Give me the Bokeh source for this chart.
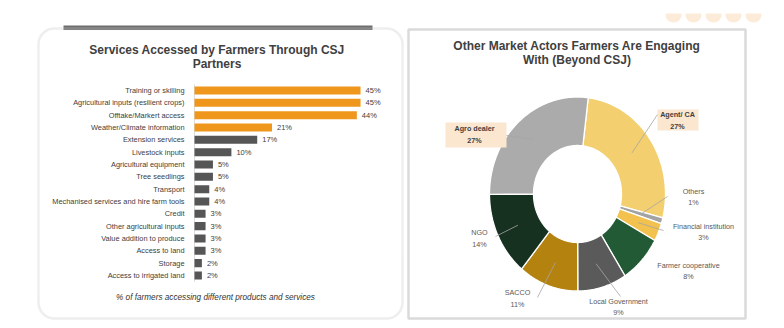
import numpy as np
from bokeh.plotting import figure
from bokeh.models import Range1d, BoxAnnotation
from bokeh.core.properties import value
from bokeh.embed import file_html
from bokeh.resources import INLINE

# ---------------- data ----------------
services = ["Training or skilling", "Agricultural inputs (resilient crops)", "Offtake/Markert access",
            "Weather/Climate information", "Extension services", "Livestock inputs",
            "Agricultural equipment", "Tree seedlings", "Transport",
            "Mechanised services and hire farm tools", "Credit", "Other agricultural inputs",
            "Value addition to produce", "Access to land", "Storage", "Access to irrigated land"]
service_pct = [45, 45, 44, 21, 17, 10, 5, 5, 4, 4, 3, 3, 3, 3, 2, 2]
top_n = 4  # highlighted services

actors = ["Agent/ CA", "Others", "Financial institution", "Farmer cooperative",
          "Local Government", "SACCO", "NGO", "Agro dealer"]
actor_pct = [27, 1, 3, 8, 9, 11, 14, 27]
actor_colors = ["#F3CF6F", "#A3A3A3", "#F2C14E", "#215A35", "#5A5A5A", "#B3820F", "#16311F", "#ABABAB"]
boxed = ["Agent/ CA", "Agro dealer"]

# ---------------- layout constants ----------------
W, H = 784, 328
FONT = value("Liberation Sans")
TXT = "#404040"
BAR_X0, PX_PER_PCT = 194, 3.69
ROW0, ROW_STEP = 90, 12.33
CX, CY, RX, RY = 577, 193.5, 88, 97
INNER = 0.5
START_DEG = 7

p = figure(width=W, height=H, x_range=Range1d(0, W), y_range=Range1d(H, 0),
           output_backend="svg", toolbar_location=None, min_border=0,
           x_axis_type=None, y_axis_type=None, outline_line_color=None)
p.grid.visible = False
p.background_fill_color = "white"
p.border_fill_color = "white"

p.extra_x_ranges = {"bars": Range1d(-BAR_X0 / PX_PER_PCT, (W - BAR_X0) / PX_PER_PCT),
                    "pie": Range1d(-CX / RX, (W - CX) / RX)}
p.extra_y_ranges = {"rows": Range1d((H - ROW0) / ROW_STEP, -ROW0 / ROW_STEP),
                    "pie": Range1d((CY - H) / RY, CY / RY)}

# ---------------- decorations ----------------
p.circle(x=[673, 693, 713, 733, 753], y=[14] * 5, radius=8, fill_color="#FDEBD9", line_color=None)
p.quad(left=[655], right=[775], top=[0], bottom=[13], fill_color="white", line_color=None)

left_box = BoxAnnotation(left=38, right=402, top=28, bottom=318, border_radius=16,
                         fill_alpha=0, line_color="#C6C6C6", line_width=2.5)
p.add_layout(left_box)
p.quad(left=[63], right=[372], top=[25], bottom=[29.5], fill_color="#6E6E6E", line_color=None)
p.quad(left=[408], right=[745], top=[29], bottom=[318], fill_color=None,
       line_color="#DADADA", line_width=2.5)

# ---------------- bar chart ----------------
idx = list(range(len(services)))
bar_colors = ["#EF961C" if i < top_n else "#565656" for i in idx]
p.segment(x0=[0], x1=[0], y0=[-0.5], y1=[len(services) - 0.5], line_color="#DDDDDD",
          line_width=1, x_range_name="bars", y_range_name="rows")
p.hbar(y=idx, left=0, right=service_pct, height=0.65, fill_color=bar_colors, line_color=None,
       x_range_name="bars", y_range_name="rows")
p.text(x=[0] * len(idx), y=idx, text=services, x_offset=-10, text_align="right",
       text_baseline="middle", text_font=FONT, text_font_size="7.4px", text_color=TXT,
       x_range_name="bars", y_range_name="rows")
p.text(x=service_pct, y=idx, text=[f"{v}%" for v in service_pct], x_offset=5, text_align="left",
       text_baseline="middle", text_font=FONT, text_font_size="7.5px", text_color=TXT,
       x_range_name="bars", y_range_name="rows")

p.text(x=[216.5, 216.5], y=[49, 63], text=["Services Accessed by Farmers Through CSJ", "Partners"],
       text_align="center", text_baseline="middle", text_font=FONT, text_font_size="12px",
       text_font_style="bold", text_color=TXT)
p.text(x=[215], y=[297], text=["% of farmers accessing different products and services"],
       text_align="center", text_baseline="middle", text_font=FONT, text_font_size="8.2px",
       text_font_style="italic", text_color="#333333")

# ---------------- donut ----------------
p.text(x=[576.5, 576.5], y=[45, 59], text=["Other Market Actors Farmers Are Engaging", "With (Beyond CSJ)"],
       text_align="center", text_baseline="middle", text_font=FONT, text_font_size="12px",
       text_font_style="bold", text_color=TXT)

total = float(sum(actor_pct))
cum = np.cumsum([0] + actor_pct)
xs, ys, mids = [], [], []
for i, v in enumerate(actor_pct):
    a0 = np.deg2rad(START_DEG + 360 * cum[i] / total)
    a1 = np.deg2rad(START_DEG + 360 * cum[i + 1] / total)
    t = np.linspace(a0, a1, 80)
    u = np.concatenate([np.sin(t), INNER * np.sin(t[::-1])])
    w = np.concatenate([np.cos(t), INNER * np.cos(t[::-1])])
    xs.append(list(u)); ys.append(list(w))
    mids.append((a0 + a1) / 2)
p.patches(xs=xs, ys=ys, fill_color=actor_colors, line_color="white", line_width=1.3,
          x_range_name="pie", y_range_name="pie")

# label positions (pixels): text centre, leader end (None = no leader)
label_pos = {
    "Agent/ CA": ((677, 120), (657, 114)),
    "Others": ((693, 196.5), (667, 196)),
    "Financial institution": ((703, 231.5), (663, 230)),
    "Farmer cooperative": ((688, 270.5), None),
    "Local Government": ((618, 306.5), (620, 296)),
    "SACCO": ((517, 298), (537, 297)),
    "NGO": ((479, 238), (495, 236)),
    "Agro dealer": ((474, 134), (506, 135)),
}
box_ext = {"Agent/ CA": (657, 698, 109, 130), "Agro dealer": (445, 506, 122, 147)}

for name, (l, r, t, b) in box_ext.items():
    p.quad(left=[l], right=[r], top=[t], bottom=[b], fill_color="#FBE6CF", line_color=None)

lx0, ly0, lx1, ly1 = [], [], [], []
for name, ang in zip(actors, mids):
    _, end = label_pos[name]
    if end is None:
        continue
    lx0.append(0.75 * np.sin(ang)); ly0.append(0.75 * np.cos(ang))
    lx1.append((end[0] - CX) / RX); ly1.append((CY - end[1]) / RY)
p.segment(x0=lx0, y0=ly0, x1=lx1, y1=ly1, line_color="#A6A6A6", line_width=0.8,
          x_range_name="pie", y_range_name="pie")

for name, v in zip(actors, actor_pct):
    (tx, ty), _ = label_pos[name]
    bold = name in boxed
    p.text(x=[tx], y=[ty], text=[f"{name}\n{v}%"], text_align="center", text_baseline="middle",
           text_font=FONT, text_font_size="7.2px", text_font_style="bold" if bold else "normal",
           text_color=TXT if bold else "#595959", text_line_height=1.3)

open("out.html", "w").write(file_html(p, INLINE))
